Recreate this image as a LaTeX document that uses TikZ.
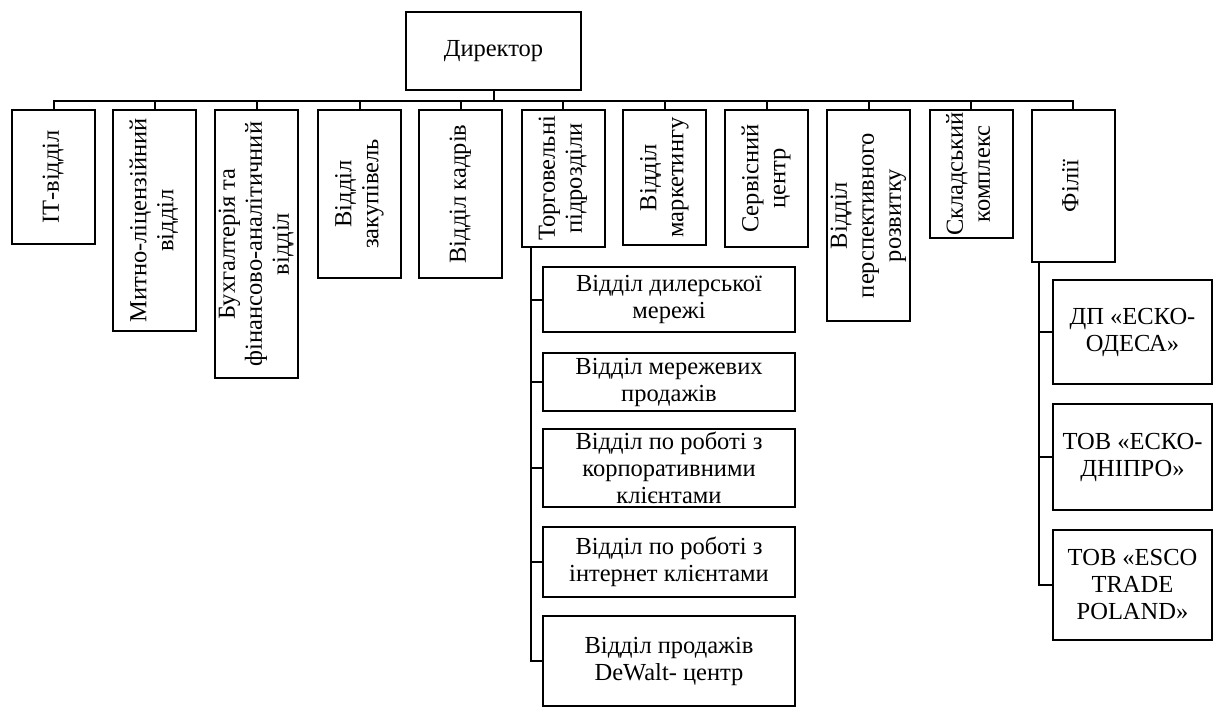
\documentclass[tikz,border=0pt]{standalone}
\usepackage{fontspec}
\setmainfont{Liberation Serif}
\usepackage{graphicx}
\newcommand\vtext[1]{\rotatebox{90}{\begin{tabular}{@{}c@{}}#1\end{tabular}}}
\begin{document}
\begin{tikzpicture}[x=1pt,y=-1pt,
  box/.style={draw, line width=2pt, rectangle, inner sep=0pt, align=center,
    font=\fontsize{24.5}{27}\selectfont},
  topbox/.style={box, minimum width=83pt},
  subbox/.style={box, minimum width=252pt},
  filbox/.style={box, minimum width=159pt},
  link/.style={line width=2pt}]
\useasboundingbox (0,0) rectangle (1216,709);

\node[box, minimum width=175pt, minimum height=78pt] (dir) at (493.5,51) {Директор};

\node[topbox, minimum height=134pt] (it) at (53.5,177) {\vtext{ІТ-відділ}};
\node[topbox, minimum height=221pt] (myt) at (154.5,220.5) {\vtext{Митно-ліцензійний\\відділ}};
\node[topbox, minimum height=268pt] (buh) at (256.5,244) {\vtext{Бухгалтерія та\\фінансово-аналітичний\\відділ}};
\node[topbox, minimum height=168pt] (zak) at (359.5,194) {\vtext{Відділ\\закупівель}};
\node[topbox, minimum height=168pt] (kad) at (460.5,194) {\vtext{Відділ кадрів}};
\node[topbox, minimum height=137pt] (torg) at (563,178.5) {\vtext{Торговельні\\підрозділи}};
\node[topbox, minimum height=135pt] (mark) at (664.5,177.5) {\vtext{Відділ\\маркетингу}};
\node[topbox, minimum height=137pt] (serv) at (766.5,178.5) {\vtext{Сервісний\\центр}};
\node[topbox, minimum height=211pt] (pers) at (868.5,215.5) {\vtext{Відділ\\перспективного\\розвитку}};
\node[topbox, minimum height=128pt] (skl) at (971,174) {\vtext{Складський\\комплекс}};
\node[topbox, minimum height=152pt] (fil) at (1073,186) {\vtext{Філії}};

\node[subbox, minimum height=65pt] (s1) at (669,299.5) {Відділ дилерської\\мережі};
\node[subbox, minimum height=58pt] (s2) at (669,382) {Відділ мережевих\\продажів};
\node[subbox, minimum height=78pt] (s3) at (669,468) {Відділ по роботі з\\корпоративними\\клієнтами};
\node[subbox, minimum height=70pt] (s4) at (669,562) {Відділ по роботі з\\інтернет клієнтами};
\node[subbox, minimum height=90pt] (s5) at (669,661) {Відділ продажів\\DeWalt- центр};

\node[filbox, minimum height=104pt] (f1) at (1132.5,332) {ДП «ЕСКО-\\ОДЕСА»};
\node[filbox, minimum height=106pt] (f2) at (1132.5,457) {ТОВ «ЕСКО-\\ДНІПРО»};
\node[filbox, minimum height=110pt] (f3) at (1132.5,585) {ТОВ «ESCO\\TRADE\\POLAND»};

% bus
\coordinate (bus) at (493.5,100.5);
\draw[link] (dir.south) -- (bus);
\draw[link] (it.north) -- (it.north |- bus) -- (fil.north |- bus) -- (fil.north);
\foreach \n in {myt,buh,zak,kad,torg,mark,serv,pers,skl}
  \draw[link] (\n.north) -- (\n.north |- bus);

% trade subtree
\coordinate (tv) at ([xshift=10pt]torg.south west);
\draw[link] (tv) -- (tv |- s5.west) -- (s5.west);
\foreach \n in {s1,s2,s3,s4}
  \draw[link] (\n.west) -- (tv |- \n.west);

% branches subtree
\coordinate (fv) at ([xshift=8pt]fil.south west);
\draw[link] (fv) -- (fv |- f3.west) -- (f3.west);
\foreach \n in {f1,f2}
  \draw[link] (\n.west) -- (fv |- \n.west);
\end{tikzpicture}
\end{document}
